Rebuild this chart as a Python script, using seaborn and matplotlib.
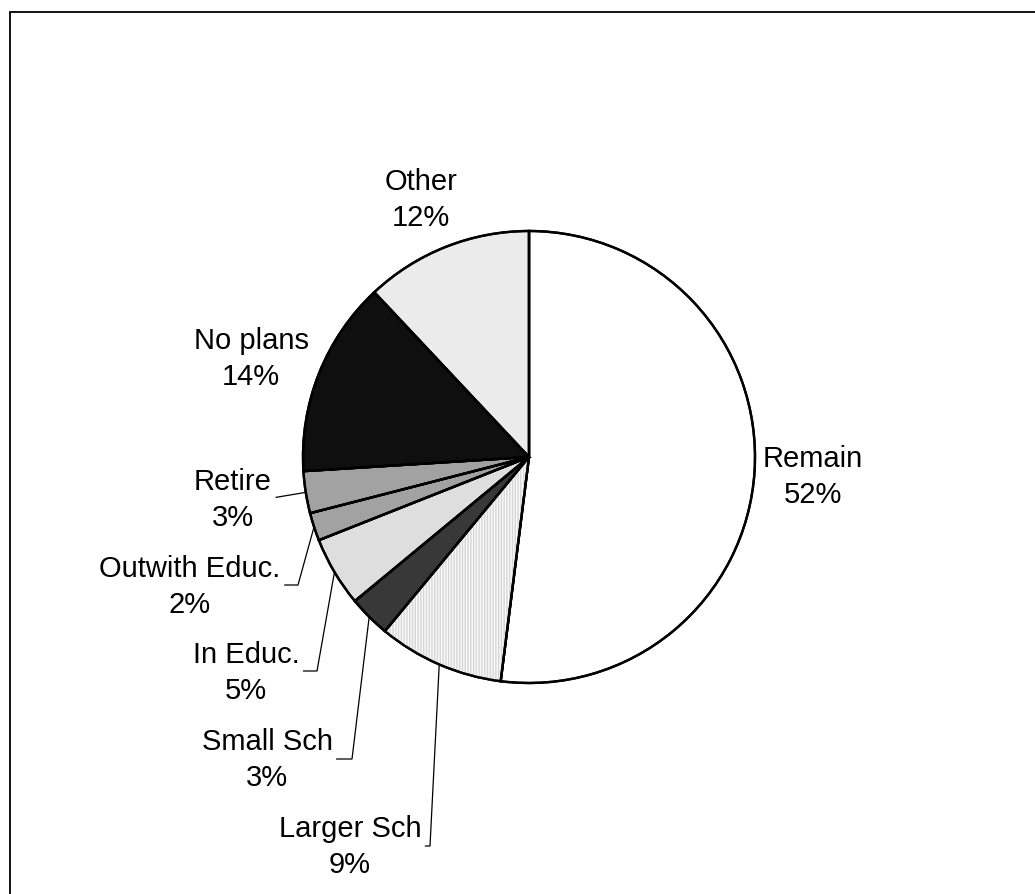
import numpy as np
import matplotlib
matplotlib.use("Agg")
import matplotlib.pyplot as plt
import seaborn as sns
from matplotlib.patches import Rectangle, Wedge

sns.set_style("white")
plt.rcParams["font.family"] = ["Liberation Sans", "DejaVu Sans"]

# Destinations, clockwise from twelve o'clock
categories = ["Remain", "Larger Sch", "Small Sch", "In Educ.", "Outwith Educ.",
              "Retire", "No plans", "Other"]
shares = [52, 9, 3, 5, 2, 3, 14, 12]
fills = ["#ffffff", "#fafafa", "#383838", "#dedede", "#a2a2a2",
         "#a2a2a2", "#0f0f0f", "#ebebeb"]

W, H = 1035, 895
fig = plt.figure(figsize=(W / 100, H / 100), dpi=100)
ax = fig.add_axes([0, 0, 1, 1])


def py(y):
    """Top-down pixel row -> data y."""
    return H - y


cx, cy, R = 529, py(458), 226
wedges, _ = ax.pie(shares, colors=fills, startangle=90, counterclock=False,
                   radius=R, center=(cx, cy), frame=True,
                   wedgeprops=dict(edgecolor="black", linewidth=1.7))

# fine vertical texture on the "Larger Sch" slice
w = wedges[1]
ax.add_patch(Wedge((cx, cy), R, w.theta1, w.theta2, facecolor="none",
                   edgecolor="#d6d6d6", linewidth=0, hatch="||||||", zorder=1.5))
for wd in wedges:
    wd.set_zorder(1)
    ax.add_patch(Wedge((cx, cy), R, wd.theta1, wd.theta2, facecolor="none",
                       edgecolor="black", linewidth=1.7, zorder=2))

ax.set_xlim(0, W)
ax.set_ylim(0, H)
ax.set_aspect("equal")
ax.axis("off")

# label placement (text-block centre) and leader elbows
label_pos = {
    "Other": (421, 200), "No plans": (251, 359), "Remain": (813, 477),
    "Retire": (233, 500), "Outwith Educ.": (190, 587), "In Educ.": (246, 673),
    "Small Sch": (267, 760), "Larger Sch": (350, 847),
}
elbows = {
    "Retire": None,
    "Outwith Educ.": (298, 586),
    "In Educ.": (317, 672),
    "Small Sch": (352, 760),
    "Larger Sch": (430, 847),
}

texts = {}
for name, val in zip(categories, shares):
    tx, ty = label_pos[name]
    texts[name] = ax.text(tx, py(ty), f"{name}\n{val}%", ha="center", va="center",
                          multialignment="center", fontsize=21, linespacing=1.36,
                          color="black")

fig.canvas.draw()
renderer = fig.canvas.get_renderer()
inv = ax.transData.inverted()

for name, wd in zip(categories, wedges):
    if name not in elbows:
        continue
    mid = np.deg2rad((wd.theta1 + wd.theta2) / 2)
    ex, ey = cx + R * np.cos(mid), cy + R * np.sin(mid)
    bb = texts[name].get_window_extent(renderer)
    x0 = inv.transform((bb.x1 + 4, 0))[0]
    if elbows[name] is None:
        xs, ys = [x0, ex], [ey - 5, ey]
    else:
        bx, by = elbows[name]
        xs, ys = [x0, bx, ex], [py(by), py(by), ey]
    ax.plot(xs, ys, color="black", linewidth=0.9, zorder=3)

# chart-area frame running off the right and bottom edges
fig.add_artist(Rectangle((9.5 / W, -0.05), 1.1, 1 - 12.5 / H + 0.05,
                         transform=fig.transFigure, fill=False,
                         edgecolor="black", linewidth=1.3))

fig.savefig("out.png", dpi=100, facecolor="white")
